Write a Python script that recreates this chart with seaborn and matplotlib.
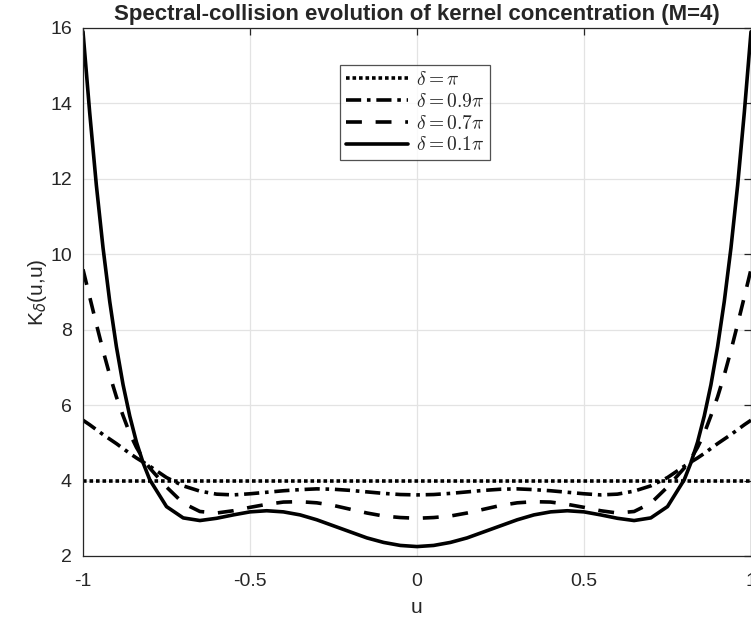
import numpy as np
import pandas as pd
import matplotlib
matplotlib.use("Agg")
import matplotlib.pyplot as plt
from matplotlib.font_manager import FontProperties
import seaborn as sns

# u grid shared by the three curved series
u = [-1.0, -0.98, -0.96, -0.94, -0.92, -0.90, -0.88, -0.86, -0.84, -0.82, -0.80,
     -0.75, -0.70, -0.65, -0.60, -0.55, -0.50, -0.45, -0.40, -0.35, -0.30,
     -0.25, -0.20, -0.15, -0.10, -0.05, 0.0,
     0.05, 0.10, 0.15, 0.20, 0.25, 0.30, 0.35, 0.40, 0.45, 0.50,
     0.55, 0.60, 0.65, 0.70, 0.75, 0.80, 0.82, 0.84, 0.86, 0.88,
     0.90, 0.92, 0.94, 0.96, 0.98, 1.0]

# delta = 0.1*pi (solid)
k_01 = [15.90, 13.76, 11.83, 10.17, 8.75, 7.55, 6.54, 5.71, 5.02, 4.47, 4.02,
        3.31, 3.01, 2.94, 3.00, 3.09, 3.17, 3.20, 3.17, 3.09, 2.96,
        2.80, 2.64, 2.48, 2.36, 2.28, 2.25,
        2.28, 2.36, 2.48, 2.64, 2.80, 2.96, 3.09, 3.17, 3.20, 3.17,
        3.09, 3.00, 2.94, 3.01, 3.31, 4.02, 4.47, 5.02, 5.71, 6.54,
        7.55, 8.75, 10.17, 11.83, 13.76, 15.90]

# delta = 0.7*pi (dashed)
k_07 = [9.60, 8.87, 8.15, 7.45, 6.80, 6.22, 5.72, 5.25, 4.88, 4.58, 4.33,
        3.83, 3.40, 3.18, 3.14, 3.20, 3.29, 3.37, 3.43, 3.44, 3.41,
        3.34, 3.24, 3.14, 3.06, 3.02, 3.00,
        3.02, 3.06, 3.14, 3.24, 3.34, 3.41, 3.44, 3.43, 3.37, 3.29,
        3.20, 3.14, 3.18, 3.40, 3.83, 4.33, 4.58, 4.88, 5.25, 5.72,
        6.22, 6.80, 7.45, 8.15, 8.87, 9.60]

# delta = 0.9*pi (dash-dot)
k_09 = [5.60, 5.48, 5.35, 5.22, 5.10, 4.98, 4.85, 4.72, 4.60, 4.49, 4.38,
        4.08, 3.86, 3.72, 3.64, 3.62, 3.65, 3.69, 3.73, 3.76, 3.78,
        3.77, 3.74, 3.70, 3.66, 3.63, 3.62,
        3.63, 3.66, 3.70, 3.74, 3.77, 3.78, 3.76, 3.73, 3.69, 3.65,
        3.62, 3.64, 3.72, 3.86, 4.08, 4.38, 4.49, 4.60, 4.72, 4.85,
        4.98, 5.10, 5.22, 5.35, 5.48, 5.60]

# delta = pi (dotted), flat
u_pi = [-1.0, 1.0]
k_pi = [4.0, 4.0]

labels = [r'$\delta = \pi$', r'$\delta = 0.9\pi$', r'$\delta = 0.7\pi$', r'$\delta = 0.1\pi$']

sns.set_style("white")
plt.rcParams['font.family'] = ['Liberation Sans', 'DejaVu Sans']
plt.rcParams['axes.unicode_minus'] = False

fig = plt.figure(figsize=(7.51, 6.21), dpi=100)
ax = fig.add_axes([83 / 751, 1 - 556 / 621, 1 - 83 / 751, (556 - 28) / 621])

lw = 2.6
sns.lineplot(x=u_pi, y=k_pi, ax=ax, color='black', lw=lw, estimator=None,
             linestyle=(0, (1, 0.8)), dash_capstyle='butt', label=labels[0])
sns.lineplot(x=u, y=k_09, ax=ax, color='black', lw=lw, estimator=None,
             linestyle=(0, (4.2, 1.6, 1.0, 1.6)), label=labels[1])
sns.lineplot(x=u, y=k_07, ax=ax, color='black', lw=lw, estimator=None,
             linestyle=(0, (4.4, 3.8)), label=labels[2])
sns.lineplot(x=u, y=k_01, ax=ax, color='black', lw=lw, estimator=None,
             linestyle='-', label=labels[3])

ax.set_xlim(-1, 1)
ax.set_ylim(2, 16)
ax.set_xticks([-1, -0.5, 0, 0.5, 1])
ax.set_xticklabels(['-1', '-0.5', '0', '0.5', '1'])
ax.set_yticks(np.arange(2, 17, 2))
ax.grid(True, color='#e3e3e3', lw=0.9)
ax.set_axisbelow(True)
for s in ax.spines.values():
    s.set_color('#262626')
    s.set_linewidth(0.9)
ax.tick_params(direction='in', length=5, width=0.9, colors='#262626',
               labelsize=14, top=True, right=True)
ax.tick_params(axis='x', pad=12)
ax.tick_params(axis='y', pad=8)

ax.set_xlabel('u', fontsize=15, color='#262626', labelpad=6)
ax.set_ylabel(r'K$_\delta$(u,u)', fontsize=15, color='#262626', labelpad=1)
ax.set_title('Spectral-collision evolution of kernel concentration (M=4)',
             fontsize=16, fontweight='bold', pad=6)

leg_font = FontProperties(family='DejaVu Serif', size=14, math_fontfamily='cm')
leg = ax.legend(loc='upper left', bbox_to_anchor=((340 - 83) / 668, 1 - (65 - 28) / 528),
                prop=leg_font, handlelength=3.2, handletextpad=0.4,
                borderpad=0.3, labelspacing=0.2, frameon=True, fancybox=False,
                borderaxespad=0)
leg.get_frame().set_edgecolor('#262626')
leg.get_frame().set_linewidth(0.9)

fig.savefig('out.png', dpi=100)
